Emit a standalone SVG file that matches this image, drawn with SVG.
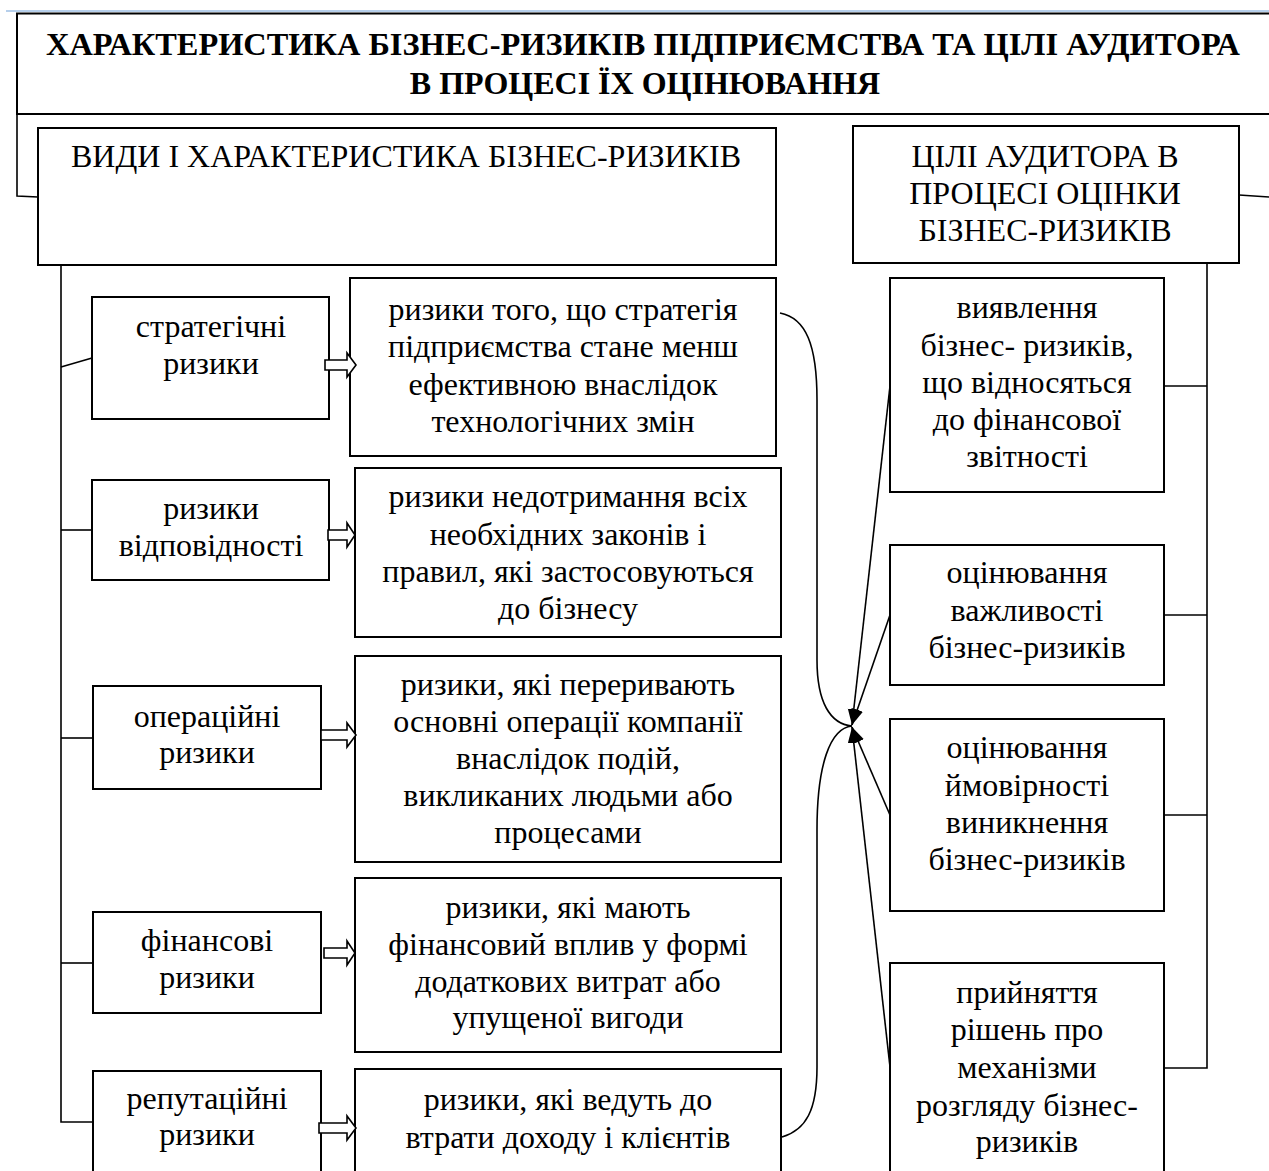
<svg xmlns="http://www.w3.org/2000/svg" width="1269" height="1171" viewBox="0 0 1269 1171">
<defs>
<style>
.box{fill:#fff;stroke:#000;stroke-width:2}
.ln{fill:none;stroke:#000;stroke-width:1.6}
.blk{fill:#fff;stroke:#000;stroke-width:1.6;stroke-linejoin:miter}
.t{font-family:"Liberation Serif","Times New Roman",serif;font-size:32px;fill:#000;text-anchor:middle}
.tb{font-family:"Liberation Serif","Times New Roman",serif;font-size:32px;font-weight:bold;fill:#000;text-anchor:middle}
</style>
<marker id="ah" markerUnits="userSpaceOnUse" markerWidth="17" markerHeight="13" refX="16" refY="6" orient="auto">
<path d="M0,0 L16,6 L0,12 Z" fill="#000"/>
</marker>
</defs>
<rect width="1269" height="1171" fill="#fff"/>
<line x1="6" y1="11" x2="1269" y2="11" stroke="#6f9fd8" stroke-width="1.2"/>

<g id="title">
<rect class="box" x="17" y="13.5" width="1270" height="100.5"/>
<text class="tb" x="643" y="55" textLength="1194" lengthAdjust="spacingAndGlyphs">ХАРАКТЕРИСТИКА БІЗНЕС-РИЗИКІВ ПІДПРИЄМСТВА ТА ЦІЛІ АУДИТОРА</text>
<text class="tb" x="645" y="94">В ПРОЦЕСІ ЇХ ОЦІНЮВАННЯ</text>
</g>

<g id="types">
<rect class="box" x="38" y="128" width="738" height="137"/>
<text class="t" x="406" y="167">ВИДИ І ХАРАКТЕРИСТИКА БІЗНЕС-РИЗИКІВ</text>
</g>

<g id="goals">
<rect class="box" x="853" y="126" width="386" height="137"/>
<text class="t" x="1045" y="167">ЦІЛІ АУДИТОРА В</text>
<text class="t" x="1045" y="204">ПРОЦЕСІ ОЦІНКИ</text>
<text class="t" x="1045" y="241">БІЗНЕС-РИЗИКІВ</text>
</g>

<g id="strategic">
<rect class="box" x="92" y="297" width="237" height="122"/>
<text class="t" x="211" y="337">стратегічні</text>
<text class="t" x="211" y="374">ризики</text>
</g>
<g id="compliance">
<rect class="box" x="92" y="480" width="237" height="100"/>
<text class="t" x="211" y="519">ризики</text>
<text class="t" x="211" y="556">відповідності</text>
</g>
<g id="operational">
<rect class="box" x="93" y="686" width="228" height="103"/>
<text class="t" x="207" y="727">операційні</text>
<text class="t" x="207" y="763">ризики</text>
</g>
<g id="financial">
<rect class="box" x="93" y="912" width="228" height="101"/>
<text class="t" x="207" y="951">фінансові</text>
<text class="t" x="207" y="988">ризики</text>
</g>
<g id="reputational">
<rect class="box" x="93" y="1071" width="228" height="120"/>
<text class="t" x="207" y="1109">репутаційні</text>
<text class="t" x="207" y="1145">ризики</text>
</g>

<g id="desc-strategic">
<rect class="box" x="350" y="278" width="426" height="178"/>
<text class="t" x="563" y="320">ризики того, що стратегія</text>
<text class="t" x="563" y="357">підприємства стане менш</text>
<text class="t" x="563" y="395">ефективною внаслідок</text>
<text class="t" x="563" y="432">технологічних змін</text>
</g>
<g id="desc-compliance">
<rect class="box" x="355" y="468" width="426" height="169"/>
<text class="t" x="568" y="507">ризики недотримання всіх</text>
<text class="t" x="568" y="545">необхідних законів і</text>
<text class="t" x="568" y="582">правил, які застосовуються</text>
<text class="t" x="568" y="619">до бізнесу</text>
</g>
<g id="desc-operational">
<rect class="box" x="355" y="656" width="426" height="206"/>
<text class="t" x="568" y="695">ризики, які переривають</text>
<text class="t" x="568" y="732">основні операції компанії</text>
<text class="t" x="568" y="769">внаслідок подій,</text>
<text class="t" x="568" y="806">викликаних людьми або</text>
<text class="t" x="568" y="843">процесами</text>
</g>
<g id="desc-financial">
<rect class="box" x="355" y="878" width="426" height="174"/>
<text class="t" x="568" y="918">ризики, які мають</text>
<text class="t" x="568" y="955">фінансовий вплив у формі</text>
<text class="t" x="568" y="992">додаткових витрат або</text>
<text class="t" x="568" y="1028">упущеної вигоди</text>
</g>
<g id="desc-reputational">
<rect class="box" x="355" y="1069" width="426" height="120"/>
<text class="t" x="568" y="1110">ризики, які ведуть до</text>
<text class="t" x="568" y="1148">втрати доходу і клієнтів</text>
</g>

<g id="goal-identify">
<rect class="box" x="890" y="278" width="274" height="214"/>
<text class="t" x="1027" y="318">виявлення</text>
<text class="t" x="1027" y="356">бізнес- ризиків,</text>
<text class="t" x="1027" y="393">що відносяться</text>
<text class="t" x="1027" y="430">до фінансової</text>
<text class="t" x="1027" y="467">звітності</text>
</g>
<g id="goal-importance">
<rect class="box" x="890" y="545" width="274" height="140"/>
<text class="t" x="1027" y="583">оцінювання</text>
<text class="t" x="1027" y="621">важливості</text>
<text class="t" x="1027" y="658">бізнес-ризиків</text>
</g>
<g id="goal-probability">
<rect class="box" x="890" y="719" width="274" height="192"/>
<text class="t" x="1027" y="758">оцінювання</text>
<text class="t" x="1027" y="796">ймовірності</text>
<text class="t" x="1027" y="833">виникнення</text>
<text class="t" x="1027" y="870">бізнес-ризиків</text>
</g>
<g id="goal-decisions">
<rect class="box" x="890" y="963" width="274" height="228"/>
<text class="t" x="1027" y="1003">прийняття</text>
<text class="t" x="1027" y="1040">рішень про</text>
<text class="t" x="1027" y="1078">механізми</text>
<text class="t" x="1027" y="1116">розгляду бізнес-</text>
<text class="t" x="1027" y="1152">ризиків</text>
</g>

<g id="connectors">
<path class="ln" d="M17,114 V196 L38,197"/>
<path class="ln" d="M1239,195 L1269,197"/>
<path class="ln" d="M61,265 V1122 H93"/>
<path class="ln" d="M61,367 L92,358"/>
<path class="ln" d="M61,530 H92"/>
<path class="ln" d="M61,738 H93"/>
<path class="ln" d="M61,963 H93"/>
<path class="ln" d="M1207,263 V1068 H1164"/>
<path class="ln" d="M1164,386 H1207"/>
<path class="ln" d="M1164,615 H1207"/>
<path class="ln" d="M1164,815 H1207"/>
<path class="blk" d="M325,360 H347 V353 L356,365 L347,377 V370 H325 Z"/>
<path class="blk" d="M328,530 H347 V523 L355,535 L347,547 V540 H328 Z"/>
<path class="blk" d="M321,730 H347 V723 L356,735 L347,747 V740 H321 Z"/>
<path class="blk" d="M324,948 H347 V941 L355,953 L347,965 V958 H324 Z"/>
<path class="blk" d="M319,1123 H347 V1116 L356,1128 L347,1140 V1133 H319 Z"/>
<path class="ln" d="M780,313 C806,318 817,345 817,400 L817,660 C817,702 830,724 852,726"/>
<path class="ln" d="M782,1137 C806,1130 817,1110 817,1067 L817,830 C817,765 830,728 852,726"/>
<path class="ln" marker-end="url(#ah)" d="M890,386 L852,725"/>
<path class="ln" marker-end="url(#ah)" d="M890,615 L852,725"/>
<path class="ln" marker-end="url(#ah)" d="M890,815 L852,727"/>
<path class="ln" marker-end="url(#ah)" d="M890,1067 L852,727"/>
</g>
</svg>
